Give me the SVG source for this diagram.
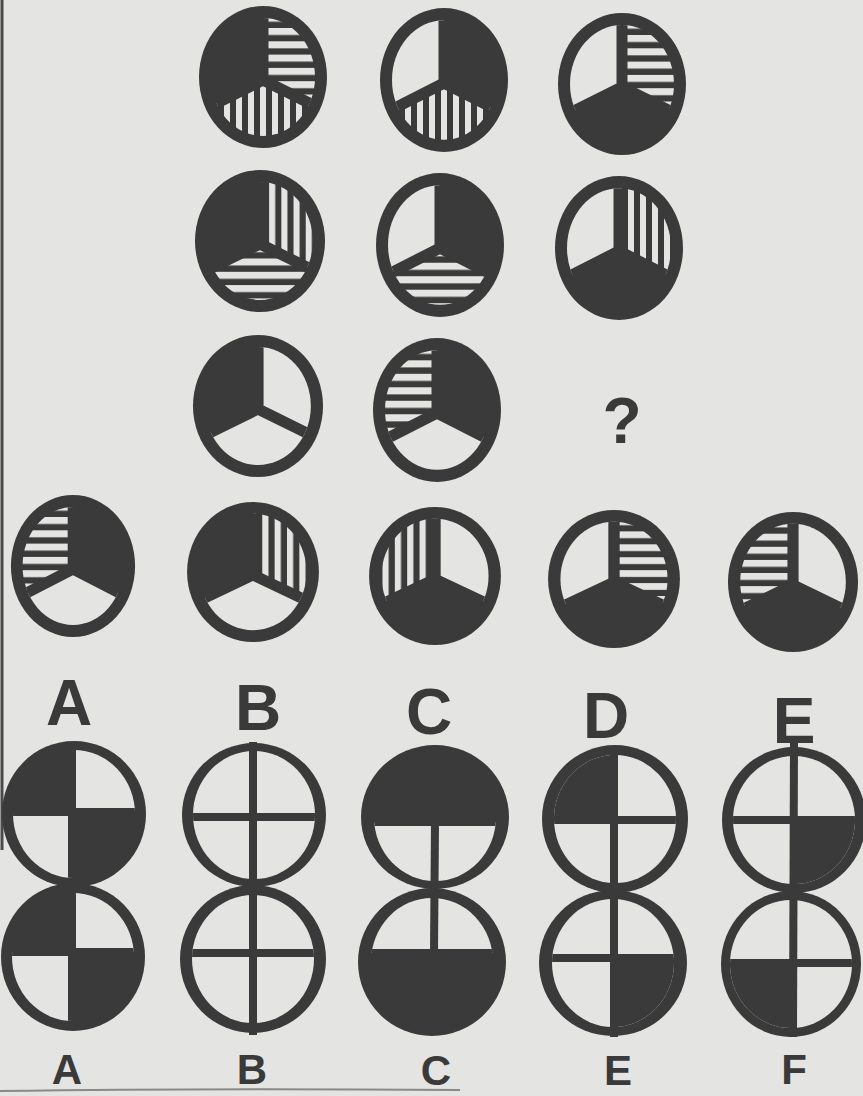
<svg xmlns="http://www.w3.org/2000/svg" width="863" height="1096" viewBox="0 0 863 1096">
<style>
.ink{fill:#3a3a3a}
.w{fill:#e4e4e2}
.d{fill:#3a3a3a}
.h{fill:url(#hs)}
.v{fill:url(#vs)}
.div{stroke:#3a3a3a;stroke-width:11;fill:none}
.qdiv{stroke:#3a3a3a;stroke-width:8;fill:none}
.lbl{font-family:"Liberation Sans",Arial,sans-serif;font-weight:bold;fill:#3a3a3a;text-anchor:middle}
</style>
<defs>
<clipPath id="in3" clipPathUnits="userSpaceOnUse"><ellipse cx="0" cy="0" rx="52" ry="59"/></clipPath>
<clipPath id="in4" clipPathUnits="userSpaceOnUse"><ellipse cx="0" cy="0" rx="61" ry="64"/></clipPath>
<pattern id="hs" patternUnits="userSpaceOnUse" x="0" y="-49" width="20" height="13.3"><rect x="0" y="0" width="20" height="7" fill="#e4e4e2"/></pattern>
<pattern id="vs" patternUnits="userSpaceOnUse" x="-3" y="0" width="12" height="20"><rect x="0" y="0" width="6" height="20" fill="#e4e4e2"/></pattern>
</defs>
<rect x="0" y="0" width="863" height="1096" fill="#e4e4e2"/>
<line x1="2" y1="0" x2="2" y2="850" stroke="#4a4a4a" stroke-width="3"/>
<path d="M0,1091 Q200,1088 460,1090" stroke="#8a8a8a" stroke-width="2" fill="none"/>

<!-- three-sector figures -->
<g id="r1c1" transform="translate(263,77)">
<ellipse class="ink" rx="64" ry="71"/>
<g clip-path="url(#in3)"><path class="d" d="M0,3 V-100 H-100 V53 Z"/><path class="h" d="M0,3 V-100 H100 V53 Z"/><path class="v" d="M0,3 L-100,53 V100 H100 V53 Z"/><path class="div" d="M0,3 V-100 M0,3 L-100,53 M0,3 L100,53"/></g>
</g>
<g id="r1c2" transform="translate(444,80) scale(1,1.014)">
<ellipse class="ink" rx="64" ry="71"/>
<g clip-path="url(#in3)"><path class="w" d="M0,3 V-100 H-100 V53 Z"/><path class="d" d="M0,3 V-100 H100 V53 Z"/><path class="v" d="M0,3 L-100,53 V100 H100 V53 Z"/><path class="div" d="M0,3 V-100 M0,3 L-100,53 M0,3 L100,53"/></g>
</g>
<g id="r1c3" transform="translate(622,84)">
<ellipse class="ink" rx="64" ry="71"/>
<g clip-path="url(#in3)"><path class="w" d="M0,3 V-100 H-100 V53 Z"/><path class="h" d="M0,3 V-100 H100 V53 Z"/><path class="d" d="M0,3 L-100,53 V100 H100 V53 Z"/><path class="div" d="M0,3 V-100 M0,3 L-100,53 M0,3 L100,53"/></g>
</g>
<g id="r2c1" transform="translate(260,241) scale(1.016,1)">
<ellipse class="ink" rx="64" ry="71"/>
<g clip-path="url(#in3)"><path class="d" d="M0,3 V-100 H-100 V53 Z"/><path class="v" d="M0,3 V-100 H100 V53 Z"/><path class="h" d="M0,3 L-100,53 V100 H100 V53 Z"/><path class="div" d="M0,3 V-100 M0,3 L-100,53 M0,3 L100,53"/></g>
</g>
<g id="r2c2" transform="translate(440,245) scale(1,1.014)">
<ellipse class="ink" rx="64" ry="71"/>
<g clip-path="url(#in3)"><path class="w" d="M0,3 V-100 H-100 V53 Z"/><path class="d" d="M0,3 V-100 H100 V53 Z"/><path class="h" d="M0,3 L-100,53 V100 H100 V53 Z"/><path class="div" d="M0,3 V-100 M0,3 L-100,53 M0,3 L100,53"/></g>
</g>
<g id="r2c3" transform="translate(619,248) scale(1,1.014)">
<ellipse class="ink" rx="64" ry="71"/>
<g clip-path="url(#in3)"><path class="w" d="M0,3 V-100 H-100 V53 Z"/><path class="v" d="M0,3 V-100 H100 V53 Z"/><path class="d" d="M0,3 L-100,53 V100 H100 V53 Z"/><path class="div" d="M0,3 V-100 M0,3 L-100,53 M0,3 L100,53"/></g>
</g>
<g id="r3c1" transform="translate(258,406) scale(1.016,1)">
<ellipse class="ink" rx="64" ry="71"/>
<g clip-path="url(#in3)"><path class="d" d="M0,3 V-100 H-100 V53 Z"/><path class="w" d="M0,3 V-100 H100 V53 Z"/><path class="w" d="M0,3 L-100,53 V100 H100 V53 Z"/><path class="div" d="M0,3 V-100 M0,3 L-100,53 M0,3 L100,53"/></g>
</g>
<g id="r3c2" transform="translate(437,410) scale(1,1.014)">
<ellipse class="ink" rx="64" ry="71"/>
<g clip-path="url(#in3)"><path class="h" d="M0,3 V-100 H-100 V53 Z"/><path class="d" d="M0,3 V-100 H100 V53 Z"/><path class="w" d="M0,3 L-100,53 V100 H100 V53 Z"/><path class="div" d="M0,3 V-100 M0,3 L-100,53 M0,3 L100,53"/></g>
</g>
<g id="question"><text class="lbl" x="622" y="443" font-size="64">?</text></g>

<!-- answer options row -->
<g id="optA" transform="translate(73,566) scale(0.97,1)">
<ellipse class="ink" rx="64" ry="71"/>
<g clip-path="url(#in3)"><path class="h" d="M0,3 V-100 H-100 V53 Z"/><path class="d" d="M0,3 V-100 H100 V53 Z"/><path class="w" d="M0,3 L-100,53 V100 H100 V53 Z"/><path class="div" d="M0,3 V-100 M0,3 L-100,53 M0,3 L100,53"/></g>
</g>
<g id="optB" transform="translate(253,572) scale(1.03,0.986)">
<ellipse class="ink" rx="64" ry="71"/>
<g clip-path="url(#in3)"><path class="d" d="M0,3 V-100 H-100 V53 Z"/><path class="v" d="M0,3 V-100 H100 V53 Z"/><path class="w" d="M0,3 L-100,53 V100 H100 V53 Z"/><path class="div" d="M0,3 V-100 M0,3 L-100,53 M0,3 L100,53"/></g>
</g>
<g id="optC" transform="translate(435,576) scale(1.03,0.972)">
<ellipse class="ink" rx="64" ry="71"/>
<g clip-path="url(#in3)"><path class="v" d="M0,3 V-100 H-100 V53 Z"/><path class="w" d="M0,3 V-100 H100 V53 Z"/><path class="d" d="M0,3 L-100,53 V100 H100 V53 Z"/><path class="div" d="M0,3 V-100 M0,3 L-100,53 M0,3 L100,53"/></g>
</g>
<g id="optD" transform="translate(614,579) scale(1.03,0.972)">
<ellipse class="ink" rx="64" ry="71"/>
<g clip-path="url(#in3)"><path class="w" d="M0,3 V-100 H-100 V53 Z"/><path class="h" d="M0,3 V-100 H100 V53 Z"/><path class="d" d="M0,3 L-100,53 V100 H100 V53 Z"/><path class="div" d="M0,3 V-100 M0,3 L-100,53 M0,3 L100,53"/></g>
</g>
<g id="optE" transform="translate(793,582) scale(1.016,0.986)">
<ellipse class="ink" rx="64" ry="71"/>
<g clip-path="url(#in3)"><path class="h" d="M0,3 V-100 H-100 V53 Z"/><path class="w" d="M0,3 V-100 H100 V53 Z"/><path class="d" d="M0,3 L-100,53 V100 H100 V53 Z"/><path class="div" d="M0,3 V-100 M0,3 L-100,53 M0,3 L100,53"/></g>
</g>

<g id="labels1">
<text class="lbl" x="69" y="725" font-size="64">A</text>
<text class="lbl" x="258" y="730" font-size="64">B</text>
<text class="lbl" x="429" y="734" font-size="64">C</text>
<text class="lbl" x="606" y="738" font-size="64">D</text>
<text class="lbl" x="794" y="743" font-size="64">E</text>
</g>

<!-- quadrant figures -->
<g id="qA1" transform="translate(74,814)">
<ellipse class="ink" rx="72" ry="73"/>
<g clip-path="url(#in4)"><rect class="d" x="-100" y="-100" width="98" height="98"/><rect class="w" x="-2" y="-100" width="102" height="98"/><rect class="w" x="-100" y="-2" width="98" height="102"/><rect class="d" x="-2" y="-2" width="102" height="102"/><path class="qdiv" d="M-100,-2 H100 M-2,-100 V100"/></g>
</g>
<g id="qA2" transform="translate(73,957)">
<ellipse class="ink" rx="72" ry="74"/>
<g clip-path="url(#in4)"><rect class="d" x="-100" y="-100" width="99" height="95"/><rect class="w" x="-1" y="-100" width="101" height="95"/><rect class="w" x="-100" y="-5" width="99" height="105"/><rect class="d" x="-1" y="-5" width="101" height="105"/><path class="qdiv" d="M-100,-5 H100 M-1,-100 V100"/></g>
</g>
<g id="qB1" transform="translate(254,815)">
<ellipse class="ink" rx="72" ry="72"/>
<g clip-path="url(#in4)"><rect class="w" x="-100" y="-100" width="200" height="200"/><path class="qdiv" d="M-100,2 H100"/></g>
</g>
<g id="qB2" transform="translate(253,959)">
<ellipse class="ink" rx="73" ry="74"/>
<g clip-path="url(#in4)"><rect class="w" x="-100" y="-100" width="200" height="200"/><path class="qdiv" d="M-100,-6 H100"/></g>
</g>
<g id="qC1" transform="translate(435,817)">
<ellipse class="ink" rx="74" ry="72"/>
<g clip-path="url(#in4)"><rect class="d" x="-100" y="-100" width="200" height="105"/><rect class="w" x="-100" y="5" width="200" height="95"/><path class="qdiv" d="M-100,5 H100"/></g>
</g>
<g id="qC2" transform="translate(432,962)">
<ellipse class="ink" rx="74" ry="74"/>
<g clip-path="url(#in4)"><rect class="w" x="-100" y="-100" width="200" height="91"/><rect class="d" x="-100" y="-9" width="200" height="109"/><path class="qdiv" d="M-100,-9 H100"/></g>
</g>
<g id="qD1" transform="translate(615,819)">
<ellipse class="ink" rx="73" ry="74"/>
<g clip-path="url(#in4)"><rect class="w" x="-100" y="-100" width="200" height="200"/><rect class="d" x="-100" y="-100" width="99" height="101"/><path class="qdiv" d="M-100,1 H100"/></g>
</g>
<g id="qD2" transform="translate(613,963)">
<ellipse class="ink" rx="74" ry="73"/>
<g clip-path="url(#in4)"><rect class="w" x="-100" y="-100" width="200" height="200"/><rect class="d" x="1" y="-5" width="99" height="105"/><path class="qdiv" d="M-100,-5 H100"/></g>
</g>
<g id="qF1" transform="translate(794,820)">
<ellipse class="ink" rx="72" ry="73"/>
<g clip-path="url(#in4)"><rect class="w" x="-100" y="-100" width="200" height="200"/><rect class="d" x="0" y="0" width="100" height="100"/><path class="qdiv" d="M-100,0 H100"/></g>
</g>
<g id="qF2" transform="translate(791,964)">
<ellipse class="ink" rx="70" ry="73"/>
<g clip-path="url(#in4)"><rect class="w" x="-100" y="-100" width="200" height="200"/><rect class="d" x="-100" y="-1" width="101" height="101"/><path class="qdiv" d="M-100,-1 H100"/></g>
</g>

<g id="connectors">
<line class="qdiv" x1="253" y1="742" x2="253" y2="1035"/>
<line class="qdiv" x1="435" y1="822" x2="434" y2="953"/>
<line class="qdiv" x1="614" y1="746" x2="614" y2="1037"/>
<line class="qdiv" x1="794" y1="738" x2="793" y2="1037"/>
</g>

<g id="labels2">
<text class="lbl" x="67" y="1084" font-size="42">A</text>
<text class="lbl" x="252" y="1084" font-size="42">B</text>
<text class="lbl" x="436" y="1085" font-size="42">C</text>
<text class="lbl" x="618" y="1085" font-size="42">E</text>
<text class="lbl" x="794" y="1084" font-size="42">F</text>
</g>
</svg>
